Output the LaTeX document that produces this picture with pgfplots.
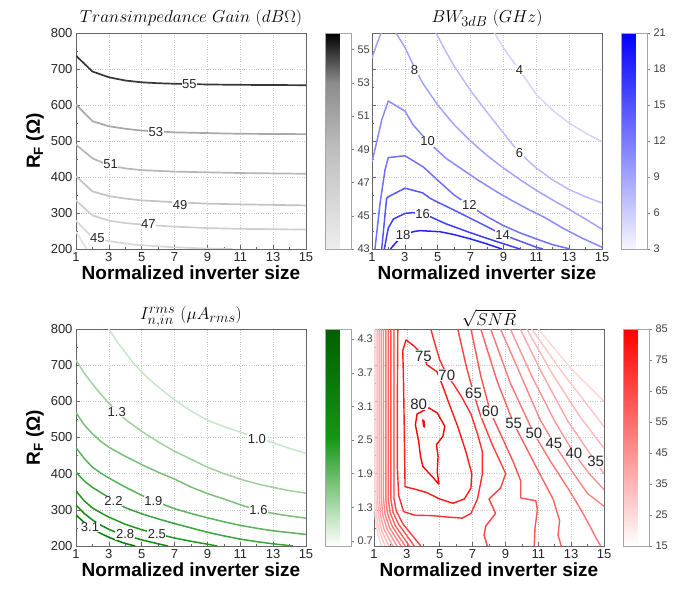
\documentclass[border=0pt]{standalone}
\usepackage{fontspec}
\setmainfont{Liberation Sans}
\usepackage{pgfplots}
\pgfplotsset{compat=1.18}

\definecolor{g55}{RGB}{55,55,55}
\definecolor{g53}{RGB}{168,168,168}
\definecolor{g51}{RGB}{182,182,182}
\definecolor{g49}{RGB}{195,195,195}
\definecolor{g47}{RGB}{206,206,206}
\definecolor{g45}{RGB}{216,216,216}
\definecolor{g43}{RGB}{226,226,226}
\definecolor{n10}{RGB}{200,230,200}
\definecolor{n13}{RGB}{160,210,160}
\definecolor{n16}{RGB}{120,192,120}
\definecolor{n19}{RGB}{90,178,90}
\definecolor{n22}{RGB}{60,163,60}
\definecolor{n25}{RGB}{35,150,35}
\definecolor{n28}{RGB}{15,140,15}
\definecolor{n31}{RGB}{0,128,0}

\tikzset{
  lbl/.style={font=\fontsize{13}{13}\selectfont, fill=white, inner sep=0.6pt, text=black!85},
  lblb/.style={font=\fontsize{15}{15}\selectfont, fill=white, inner sep=0.6pt, text=black!85},
}

\pgfplotsset{
  /pgf/number format/assume math mode=true,
  base/.style={
    scale only axis, width=230pt, height=216pt,
    xmin=1, xmax=15, ymin=200, ymax=800,
    xtick={1,3,...,15}, minor x tick num=1,
    ytick={200,300,...,800}, minor y tick num=1,
    xmajorgrids, ymajorgrids,
    major grid style={black!22, dotted, line width=0.5pt},
    tick align=inside, xtick pos=bottom, ytick pos=left,
    major tick length=3.5pt, minor tick length=2pt,
    axis line style={black!60, line width=0.8pt},
    every tick/.style={black!60, line width=0.6pt},
    tick label style={font=\fontsize{13}{13}\selectfont, text=black!85},
    xlabel={Normalized inverter size},
    xlabel style={font=\fontsize{19}{19}\selectfont\bfseries, yshift=3pt},
    title style={font=\fontsize{19}{19}\selectfont, yshift=-3pt},
    no markers, every axis plot/.append style={line join=round},
    colorbar,
    colorbar style={
      at={(parent axis.north east)}, anchor=north west, xshift=11pt,
      scale only axis, width=26pt, height=216pt,
      axis line style={black!35}, tick align=outside,
      major tick length=2.5pt, every tick/.style={black!50},
      ytick pos=right, yticklabel pos=right,
      minor y tick num=0,
      yticklabel style={font=\fontsize{11}{11}\selectfont, text=black!75},
    },
  },
}

\begin{document}
\begin{tikzpicture}
\path[use as bounding box] (0,0) rectangle (686pt,597pt);

% ---------------- Transimpedance gain ----------------
\begin{axis}[base, at={(76pt,348pt)}, anchor=south west,
  title={$Transimpedance\ Gain\ (dB\Omega)$},
  ylabel={R\textsubscript{F} (Ω)},
  ylabel style={font=\fontsize{19}{19}\selectfont\bfseries},
  colormap={gainmap}{rgb255(0cm)=(238,238,238) rgb255(6cm)=(190,190,190) rgb255(10cm)=(140,140,140) rgb255(13cm)=(0,0,0)},
  point meta min=43, point meta max=56,
  colorbar style={ytick={43,45,...,55}},
  every axis plot/.append style={line width=1.7pt}]
\addplot[g55] coordinates {(1,737) (2,693) (3,677) (4,668) (5,663) (6,660.5) (7,659) (9,657) (11,656) (13,655.5) (15,655)};
\addplot[g53] coordinates {(1,601) (2,555) (3,541) (4,534) (5,529) (7,524) (9,522) (11,520) (15,519)};
\addplot[g51] coordinates {(1,490) (2,452) (3,432) (4,424) (5,419) (7,415) (9,413) (11,411) (15,409)};
\addplot[g49] coordinates {(1,402) (2,360) (3,347) (4,340) (5,335) (7,330) (9,326) (11,324) (15,321)};
\addplot[g47] coordinates {(1,335) (2,293) (3,279) (4,272) (5,268) (7,262) (9,258) (11,256) (15,254)};
\addplot[g45] coordinates {(1,279) (1.95,234) (2.87,223) (4.5,212) (6.5,206) (8.5,202) (10.5,200)};
\addplot[g43] coordinates {(1,248) (1.65,200)};
\node[lbl] at (axis cs:7.9,658) {55};
\node[lbl] at (axis cs:5.86,524) {53};
\node[lbl] at (axis cs:3.11,437) {51};
\node[lbl] at (axis cs:7.34,322) {49};
\node[lbl] at (axis cs:5.41,270) {47};
\node[lbl] at (axis cs:2.3,231) {45};
\end{axis}

% ---------------- Bandwidth ----------------
\begin{axis}[base, at={(372pt,348pt)}, anchor=south west,
  title={$BW_{3dB}\ (GHz)$},
  yticklabels={},
  colormap={bwmap}{rgb255(0cm)=(246,246,255) rgb255(1cm)=(0,0,255)},
  point meta min=3, point meta max=21,
  colorbar style={ytick={3,6,...,21}},
  every axis plot/.append style={line width=1.5pt}]
\addplot[blue!17] coordinates {(8.45,800) (9.2,745) (9.97,698) (11.02,628) (12,585) (13,550) (14,522) (15,498)};
\addplot[blue!27] coordinates {(4.9,800) (5.5,748) (6,708) (7,640) (8,580) (9,522) (9.97,467) (11,425) (12,392) (13,365) (14,345) (15,328)};
\addplot[blue!36] coordinates {(1,730) (1.24,763) (1.55,800)};
\addplot[blue!36] coordinates {(2.46,800) (2.97,763) (3.58,705) (4.08,661) (5,600) (6,545) (7,500) (8,460) (9,425) (10,393) (11,363) (12,336) (13,310) (14,283) (15,255)};
\addplot[blue!46] coordinates {(1,442) (1.3,500) (1.6,560) (1.99,611) (3.01,583) (3.5,545) (4.39,499) (4.83,480) (5.5,452) (6.56,419) (7.5,390) (8.59,359) (9.5,335) (10.6,308) (11.5,288) (12.65,257) (13.8,230) (15,205)};
\addplot[blue!56] coordinates {(1.18,200) (1.49,327) (1.79,419) (1.99,454) (3.01,459) (4.12,428) (5.24,381) (6,350) (6.92,321) (8,290) (9,265) (10,245) (11,228) (12,212) (13.05,200)};
\addplot[blue!66] coordinates {(1.59,200) (1.89,341) (1.99,345) (3.01,369) (4.08,356) (4.53,341) (5,330) (6,308) (7,285) (8,262) (8.95,240) (10,222) (11,205) (11.4,200)};
\addplot[blue!76] coordinates {(1.75,200) (1.99,258) (2.3,283) (3.01,299) (3.5,301) (4.08,297) (4.53,290) (5.5,270) (7,245) (8.5,222) (10,200)};
\addplot[blue!86] coordinates {(2.12,200) (2.5,220) (2.87,236) (3.5,248) (3.92,251) (5.14,248) (6,240) (7,228) (8,214) (8.9,200)};
\node[lbl] at (axis cs:3.58,698) {8};
\node[lbl] at (axis cs:9.97,698) {4};
\node[lbl] at (axis cs:4.39,499) {10};
\node[lbl] at (axis cs:9.97,467) {6};
\node[lbl] at (axis cs:6.92,321) {12};
\node[lbl] at (axis cs:4.08,297) {16};
\node[lbl] at (axis cs:8.95,240) {14};
\node[lbl] at (axis cs:2.9,238) {18};
\end{axis}

% ---------------- Input-referred noise ----------------
\begin{axis}[base, at={(76pt,51pt)}, anchor=south west, height=217pt,
  title={$I_{n,in}^{rms}\ (\mu A_{rms})$},
  title style={yshift=-5pt},
  ylabel={R\textsubscript{F} (Ω)},
  ylabel style={font=\fontsize{19}{19}\selectfont\bfseries},
  colormap={noisemap}{rgb255(0cm)=(255,255,255) rgb255(1cm)=(20,150,20) rgb255(2cm)=(0,95,0)},
  point meta min=0.61, point meta max=4.48,
  colorbar style={height=217pt, ytick={0.7,1.3,1.9,2.5,3.1,3.7,4.3}, yticklabels={0.7,1.3,1.9,2.5,3.1,3.7,4.3}},
  every axis plot/.append style={line width=1.5pt}]
\addplot[n10] coordinates {(3.0,800) (3.5,765) (4,735) (4.5,705) (5,682) (5.5,659) (6,640) (7,604) (8,573) (9,548) (10,530) (11,515) (12,500) (13,485) (14,470) (15,456)};
\addplot[n13] coordinates {(1,714) (1.5,678) (2,648) (2.5,620) (3,595) (3.5,572) (4,550) (5,517) (6,488) (7,462) (8,440) (9,418) (10,400) (11,385) (12,372) (13,362) (14,353) (15,346)};
\addplot[n16] coordinates {(1,569) (1.5,535) (2,510) (2.5,490) (3,473) (4,448) (5,425) (6,404) (7,385) (8,363) (9,345) (10,330) (11,314) (12,300) (13,290) (14,283) (15,277)};
\addplot[n19] coordinates {(1,472) (1.5,442) (2,418) (2.5,402) (3,388) (4,363) (5,340) (5.7,326) (7,303) (8,290) (9,278) (10,267) (11,257) (12,249) (13,242) (14,237) (15,232)};
\addplot[n22] coordinates {(1,404) (1.5,380) (2,362) (2.5,348) (3,334) (3.27,326) (4,306) (5,289) (6,275) (7,262) (8,250) (9,238) (10,228) (11,219) (12,212) (13,206) (14.2,200)};
\addplot[n25] coordinates {(1,352) (1.5,325) (2,305) (2.5,292) (3,280) (4,260) (5,245) (6,233) (7,222) (8,213) (9,205) (9.6,200)};
\addplot[n28] coordinates {(1,313) (1.5,290) (2,272) (2.5,258) (3,246) (3.5,237) (4,230) (5,217) (6,206) (6.6,200)};
\addplot[n31] coordinates {(1,286) (1.5,265) (1.95,249) (2.5,235) (3,224) (3.5,215) (4,207) (4.6,200)};
\node[lbl] at (axis cs:3.48,571) {1.3};
\node[lbl] at (axis cs:12.01,495) {1.0};
\node[lbl] at (axis cs:3.28,324) {2.2};
\node[lbl] at (axis cs:5.71,324) {1.9};
\node[lbl] at (axis cs:12.11,300) {1.6};
\node[lbl] at (axis cs:1.85,253) {3.1};
\node[lbl] at (axis cs:3.99,232) {2.8};
\node[lbl] at (axis cs:5.92,232) {2.5};
\end{axis}

% ---------------- sqrt(SNR) ----------------
\begin{axis}[base, at={(374pt,51pt)}, anchor=south west, height=217pt,
  title={$\sqrt{SNR}$},
  title style={yshift=-5pt},
  yticklabels={},
  colormap={snrmap}{rgb255(0cm)=(255,255,255) rgb255(1cm)=(255,0,0)},
  point meta min=15, point meta max=85,
  colorbar style={height=217pt, ytick={15,25,...,85}},
  every axis plot/.append style={line width=1.4pt}]
% left flank
\addplot[red!16] coordinates {(1.03,800) (1.03,330) (1.07,280) (1.2,240) (1.45,200)};
\addplot[red!22] coordinates {(1.12,800) (1.12,330) (1.17,280) (1.33,240) (1.68,200)};
\addplot[red!28] coordinates {(1.22,800) (1.22,330) (1.28,282) (1.47,242) (1.9,200)};
\addplot[red!35] coordinates {(1.33,800) (1.33,330) (1.4,284) (1.62,245) (2.15,200)};
\addplot[red!42] coordinates {(1.45,800) (1.45,330) (1.53,286) (1.78,248) (2.4,200)};
\addplot[red!48] coordinates {(1.58,800) (1.58,330) (1.67,288) (1.95,250) (2.65,200)};
\addplot[red!55] coordinates {(1.72,800) (1.72,330) (1.82,290) (2.12,253) (2.9,200)};
\addplot[red!62] coordinates {(1.87,800) (1.87,330) (1.98,292) (2.3,256) (3.15,200)};
\addplot[red!68] coordinates {(2.03,800) (2.03,330) (2.15,294) (2.5,260) (3.45,200)};
\addplot[red!75] coordinates {(2.22,800) (2.22,330) (2.36,296) (2.75,262) (3.85,200)};
% right flank
\addplot[red!75] coordinates {(6.1,800) (6.6,700) (7.06,622) (7.49,560) (8.2,480) (9.02,400) (8.7,360) (8.0,330) (8.4,290) (7.8,255) (7.7,230) (7.9,200)};
\addplot[red!68] coordinates {(6.9,800) (7.5,670) (8.08,571) (8.9,490) (9.5,430) (9.93,380) (9.93,333) (10.85,325) (10.95,300) (10.8,250) (10.75,200)};
\addplot[red!62] coordinates {(7.5,800) (8.5,655) (9.5,539) (10.4,460) (11.2,390) (11.9,330) (12.3,270) (12.2,230) (12.4,200)};
\addplot[red!55] coordinates {(8.1,800) (9.3,650) (10.73,511) (11.8,430) (12.8,360) (13.6,300) (14.2,250) (14.6,215) (14.8,200)};
\addplot[red!48] coordinates {(8.7,800) (10.0,665) (11.1,550) (11.95,484) (13.0,410) (14.0,345) (15,310)};
\addplot[red!42] coordinates {(9.3,800) (10.6,670) (12.0,545) (13.17,456) (14.1,400) (15,356)};
\addplot[red!35] coordinates {(9.9,800) (11.2,680) (12.8,545) (14.49,433) (15,400)};
\addplot[red!28] coordinates {(10.3,800) (11.8,680) (13.5,560) (15,470)};
\addplot[red!22] coordinates {(10.6,800) (12.3,690) (15,530)};
\addplot[red!16] coordinates {(11.0,800) (13,690) (15,600)};
% core
\addplot[red!82] coordinates {(2.45,800) (2.42,600) (2.42,420) (2.5,340) (2.8,295) (3.5,285) (4.54,284) (5.5,280) (6.37,277) (6.9,290) (7.3,330) (7.6,400) (7.6,460) (7.3,510) (6.9,565) (6.3,615) (5.8,650) (5.43,673) (5.0,715) (4.7,760) (4.46,800)};
\addplot[red!90] coordinates {(2.95,770) (3.46,752) (4.01,725) (4.22,701) (4.83,682) (5.2,640) (5.6,590) (6.1,530) (6.6,460) (6.95,400) (6.9,360) (6.5,330) (5.8,318) (5.0,330) (4.2,348) (3.5,357) (2.89,364) (2.85,500) (2.8,650) (2.75,740) (2.95,770)};
\addplot[red] coordinates {(4.33,582) (4.85,568) (5.31,531) (5.19,503) (4.8,480) (4.9,448) (4.85,406) (4.95,371) (4.44,397) (3.97,420) (3.83,448) (3.72,489) (3.52,535) (3.62,565) (4.33,582)};
\addplot[red, fill=red, line width=0.6pt] coordinates {(3.95,550) (4.08,545) (4.1,528) (4.0,530) (3.95,550)};
\node[lblb] at (axis cs:4.01,725) {75};
\node[lblb] at (axis cs:5.43,673) {70};
\node[lblb] at (axis cs:7.06,622) {65};
\node[lblb] at (axis cs:8.08,571) {60};
\node[lblb] at (axis cs:9.5,539) {55};
\node[lblb] at (axis cs:10.73,511) {50};
\node[lblb] at (axis cs:11.95,484) {45};
\node[lblb] at (axis cs:13.17,456) {40};
\node[lblb] at (axis cs:14.49,433) {35};
\node[lblb] at (axis cs:3.72,593) {80};
\end{axis}
\end{tikzpicture}
\end{document}
